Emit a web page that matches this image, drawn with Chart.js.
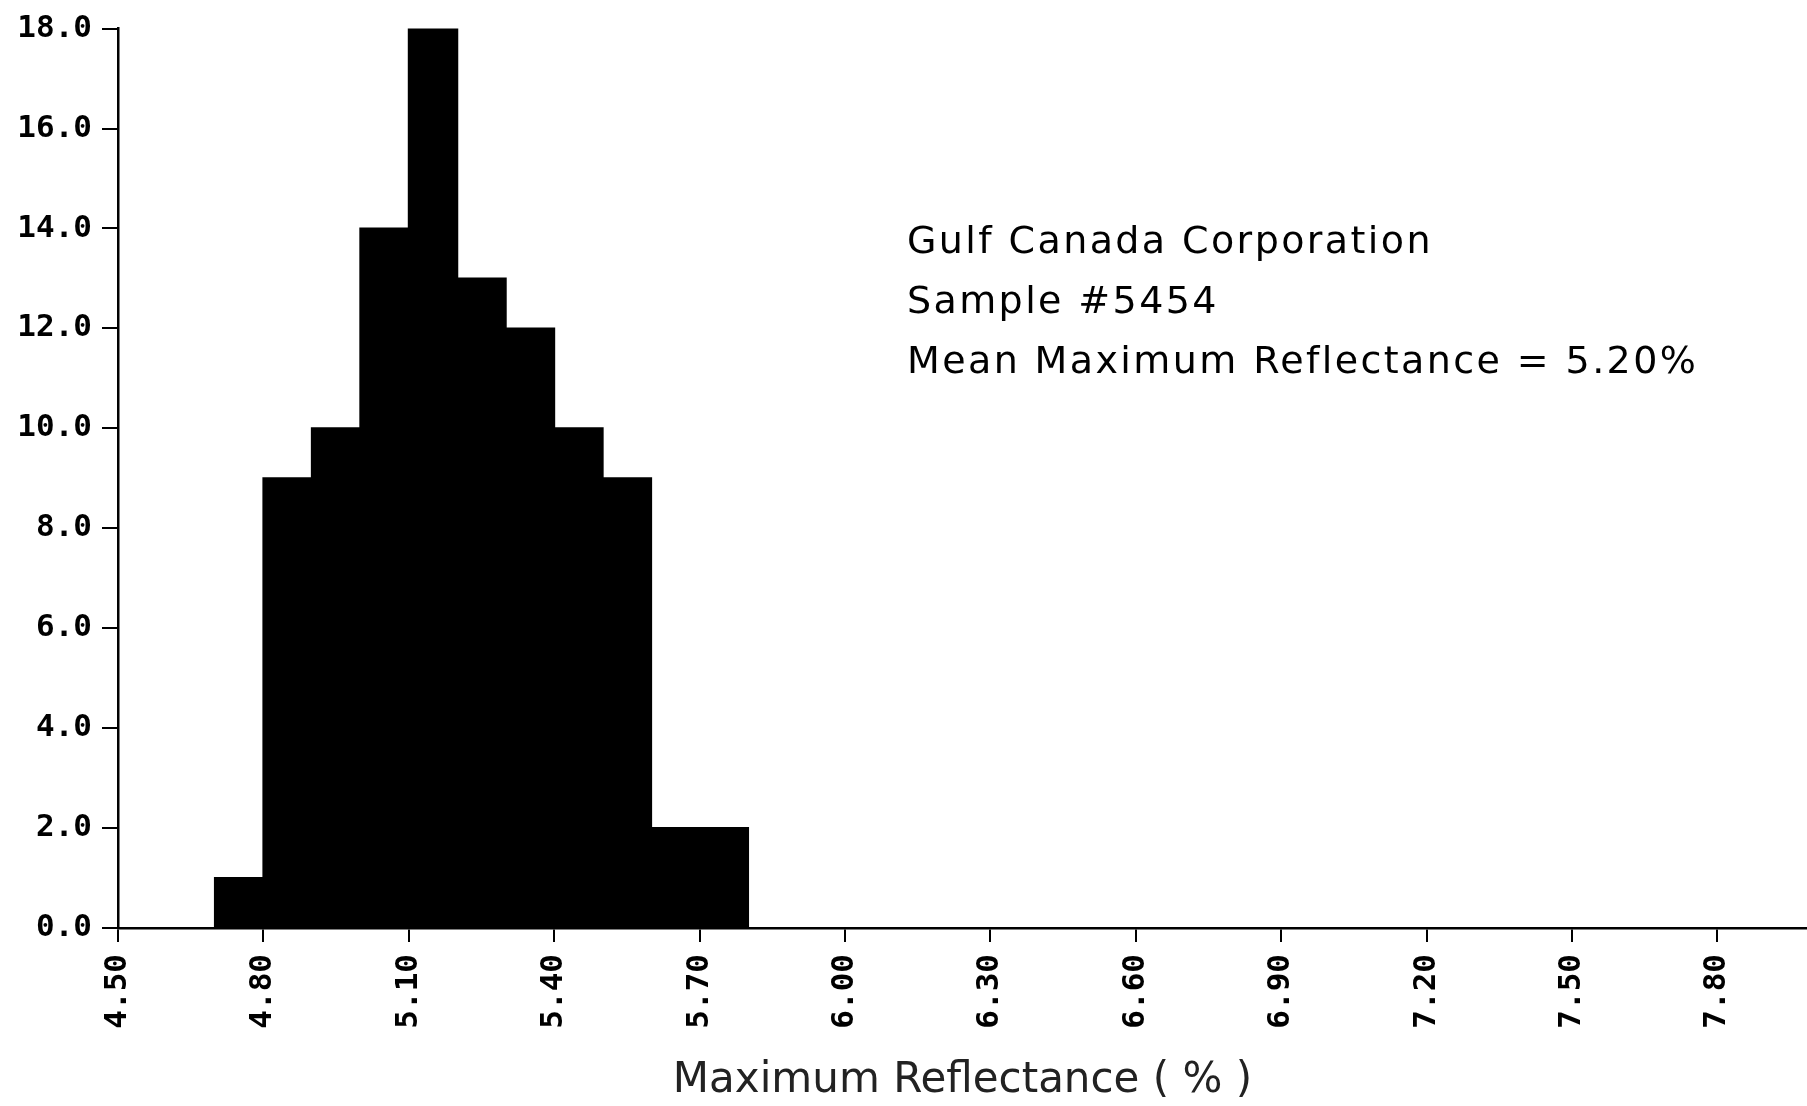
<!DOCTYPE html>
<html>
<head>
<meta charset="utf-8">
<script src="https://cdn.jsdelivr.net/npm/chart.js@4.4.0/dist/chart.umd.min.js"></script>
<style>
  html, body { margin: 0; padding: 0; background: #fff; }
</style>
</head>
<body>
<canvas id="hist" width="1807" height="1106"></canvas>
<script>
// histogram bins (lower edge, %) and counts
var binStart = [4.70, 4.80, 4.90, 5.00, 5.10, 5.20, 5.30, 5.40, 5.50, 5.60, 5.70];
var counts = [1, 9, 10, 14, 18, 13, 12, 10, 9, 2, 2];
var binWidth = 0.1;

var xTicks = [4.5, 4.8, 5.1, 5.4, 5.7, 6.0, 6.3, 6.6, 6.9, 7.2, 7.5, 7.8];
var yTicks = [0, 2, 4, 6, 8, 10, 12, 14, 16, 18];

var notes = [
  "Gulf Canada Corporation",
  "Sample #5454",
  "Mean Maximum Reflectance = 5.20%"
];

var tickFont = { family: "'DejaVu Sans Mono', monospace", size: 31, weight: "bold" };

var notesPlugin = {
  id: "notes",
  afterDraw: function (chart) {
    var c = chart.ctx;
    c.save();
    c.fillStyle = "#000";
    c.font = "38px 'DejaVu Sans'";
    c.letterSpacing = "2.4px";
    c.textAlign = "left";
    c.textBaseline = "middle";
    notes.forEach(function (t, i) {
      c.fillText(t, 907, 243 + i * 60);
    });
    c.restore();
  }
};

var ctx = document.getElementById("hist");

new Chart(ctx, {
  type: "bar",
  data: {
    datasets: [
      {
        data: binStart.map(function (s, i) {
          return { x: s + binWidth / 2, y: counts[i] };
        }),
        backgroundColor: "#000",
        borderWidth: 0,
        inflateAmount: 1,
        barPercentage: 1,
        categoryPercentage: 1
      }
    ]
  },
  options: {
    responsive: false,
    animation: false,
    devicePixelRatio: 1,
    layout: { padding: { top: 28, left: 0, right: 0, bottom: 0 } },
    plugins: {
      legend: { display: false },
      tooltip: { enabled: false }
    },
    scales: {
      x: {
        type: "linear",
        min: 4.5,
        max: 7.985,
        offset: false,
        afterBuildTicks: function (s) {
          s.ticks = xTicks.map(function (v) { return { value: v }; });
        },
        afterFit: function (s) { s.height = 178; },
        ticks: {
          autoSkip: false,
          minRotation: 90,
          maxRotation: 90,
          padding: 12,
          color: "#000",
          font: tickFont,
          callback: function (v) { return Number(v).toFixed(2); }
        },
        grid: {
          offset: false,
          drawOnChartArea: false,
          drawTicks: true,
          tickLength: 14,
          color: "#000",
          lineWidth: 2
        },
        border: { color: "#000", width: 2.5 },
        title: {
          display: true,
          text: "Maximum Reflectance ( % )",
          color: "#222",
          font: { family: "'DejaVu Sans'", size: 42 },
          padding: { top: 0, bottom: 0 }
        }
      },
      y: {
        min: 0,
        max: 18,
        afterBuildTicks: function (s) {
          s.ticks = yTicks.map(function (v) { return { value: v }; });
        },
        afterFit: function (s) { s.width = 118; },
        ticks: {
          padding: 10,
          color: "#000",
          font: tickFont,
          callback: function (v) { return Number(v).toFixed(1); }
        },
        grid: {
          drawOnChartArea: false,
          drawTicks: true,
          tickLength: 16,
          color: "#000",
          lineWidth: 2
        },
        border: { color: "#000", width: 2.5 }
      }
    }
  },
  plugins: [notesPlugin]
});
</script>
</body>
</html>
